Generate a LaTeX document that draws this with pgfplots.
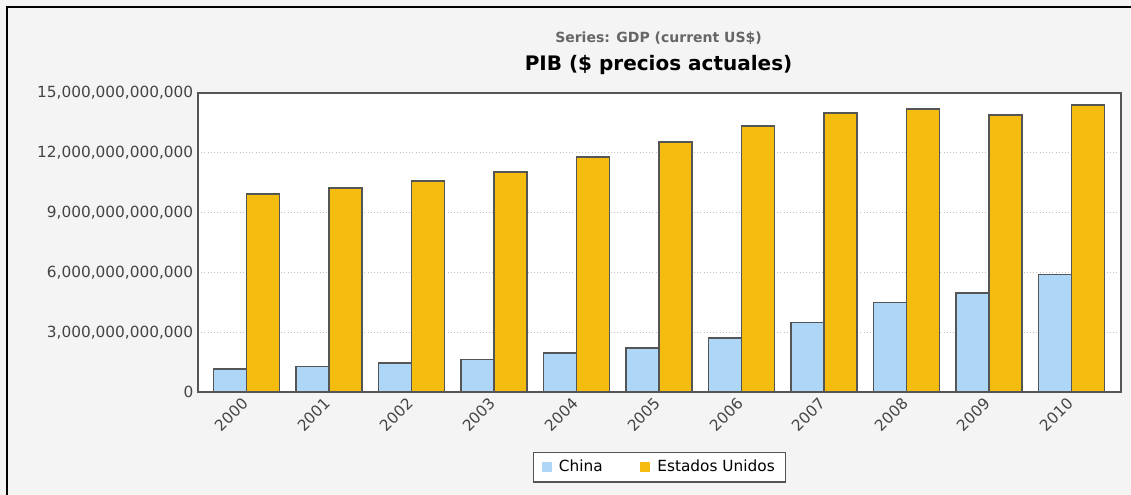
\documentclass[border=0pt]{standalone}
\usepackage{fontspec}
\setmainfont{DejaVu Sans}
\usepackage{pgfplots}
\pgfplotsset{compat=1.18}
\definecolor{bg}{HTML}{F4F4F4}
\definecolor{edge}{HTML}{555555}
\definecolor{chinablue}{HTML}{AED6F6}
\definecolor{usgold}{HTML}{F5BC10}
\definecolor{subgray}{HTML}{666666}
\definecolor{ticktext}{HTML}{444444}
\begin{document}
\begin{tikzpicture}
% 1 px of the reference = 0.75pt
\path[use as bounding box, fill=bg] (0,0) rectangle (848.25pt,-371.25pt);
\draw[black, line width=1.5pt] (4.9pt,-371.25pt) -- (4.9pt,-4.9pt) -- (848.25pt,-4.9pt);
\node[font=\bfseries\fontsize{10.5}{12}\selectfont, text=subgray] at (493.9pt,-28.5pt) {Series: GDP (current US\$)};
\node[font=\bfseries\fontsize{15}{17}\selectfont] at (493.9pt,-48.75pt) {PIB (\$ precios actuales)};
\begin{axis}[
  at={(148.5pt,-294pt)}, anchor=south west,
  scale only axis, width=692.25pt, height=224.25pt,
  ybar=0pt, bar width=24.75pt,
  xmin=-0.59, xmax=10.6, ymin=0, ymax=15,
  axis background/.style={fill=white},
  axis line style={draw=edge, line width=1.5pt},
  major tick length=0pt,
  ymajorgrids, grid style={dotted, black!25, line width=1pt},
  xtick={0,...,10},
  xticklabels={2000,2001,2002,2003,2004,2005,2006,2007,2008,2009,2010},
  ytick={0,3,6,9,12,15},
  yticklabels={0,{3,000,000,000,000},{6,000,000,000,000},{9,000,000,000,000},{12,000,000,000,000},{15,000,000,000,000}},
  tick label style={font=\fontsize{11.5}{13}\selectfont, text=ticktext},
  xticklabel style={rotate=45, anchor=east, yshift=-4pt, xshift=-2pt},
  legend style={at={(0.5,-0.251)}, anchor=center, legend columns=2,
    draw=edge, line width=1pt, fill=white, font=\fontsize{11.5}{13}\selectfont,
    inner ysep=4pt, inner xsep=6pt,
    /tikz/every odd column/.append style={column sep=3.5pt},
    /tikz/every even column/.append style={column sep=26pt}},
  legend image code/.code={\fill[#1, draw=none] (0pt,-3.6pt) rectangle (7.5pt,3.9pt);},
]
% China (trillions of current US$)
\addplot[fill=chinablue, draw=edge, line width=1.1pt] coordinates {
  (0,1.15) (1,1.29) (2,1.45) (3,1.64) (4,1.95) (5,2.20) (6,2.70) (7,3.50) (8,4.50) (9,4.97) (10,5.90)};
% Estados Unidos
\addplot[fill=usgold, draw=edge, line width=1.1pt] coordinates {
  (0,9.93) (1,10.24) (2,10.59) (3,11.04) (4,11.79) (5,12.54) (6,13.35) (7,14.00) (8,14.20) (9,13.90) (10,14.40)};
\legend{China, Estados Unidos}
\end{axis}
\end{tikzpicture}
\end{document}
